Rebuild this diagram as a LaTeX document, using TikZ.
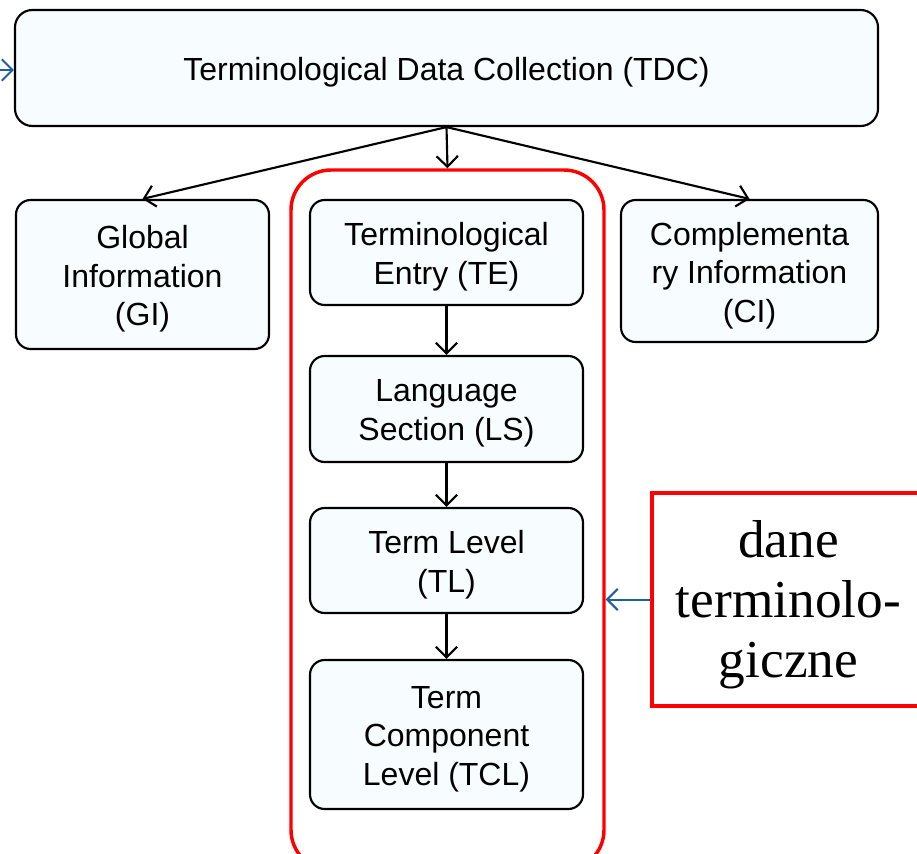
\documentclass[tikz,border=0pt]{standalone}
\usepackage{fontspec}
\setmainfont{Liberation Sans}
\newfontfamily\timesf{Liberation Serif}
\usetikzlibrary{arrows.meta}
\definecolor{boxfill}{RGB}{247,252,254}
\definecolor{arrblue}{RGB}{31,95,160}
\definecolor{grpred}{RGB}{255,0,0}
\begin{document}
\begin{tikzpicture}[x=0.75pt,y=-0.75pt,
  lbl/.style={align=center,font=\fontsize{24pt}{28.9pt}\selectfont,yshift=-3.3pt,inner sep=0pt},
  dlbl/.style={align=center,font=\timesf\fontsize{40pt}{45pt}\selectfont,yshift=-3.6pt,inner sep=0pt},
  box/.style={draw=black,line width=1.6pt,fill=boxfill,rounded corners=11pt,inner sep=0pt,
    label={[lbl]center:#1}},
  conn/.style={line width=1.6pt,-{Straight Barb[length=8pt,width=16pt,line width=1.6pt]}},
  bconn/.style={arrblue,line width=1.5pt,-{Straight Barb[length=8pt,width=16pt,line width=1.5pt]}}]
\useasboundingbox (0,0) rectangle (917,853);
\clip (0,0) rectangle (917,853);
\fill[white] (0,0) rectangle (917,853);
% boxes
\node[box={Terminological Data Collection (TDC)},rounded corners=13pt,minimum width=647.25pt,minimum height=87pt] (tdc) at (446.5,68) {};
\node[box={Global\\Information\\(GI)},minimum width=189.75pt,minimum height=111.75pt] (gi) at (142.5,274.5) {};
\node[box={Complementa\\ry Information\\(CI)},minimum width=192.75pt,minimum height=106.5pt] (ci) at (749.5,271) {};
\node[draw=grpred,line width=2.6pt,rounded corners=30pt,minimum width=234.75pt,minimum height=525pt] (group) at (447.5,520) {};
\node[box={Terminological\\Entry (TE)},minimum width=204.75pt,minimum height=78.75pt] (te) at (446.5,252.5) {};
\node[box={Language\\Section (LS)},minimum width=204.75pt,minimum height=79.5pt] (ls) at (446.5,409) {};
\node[box={Term Level\\(TL)},minimum width=204.75pt,minimum height=78.75pt] (tl) at (446.5,560.5) {};
\node[box={Term\\Component\\Level (TCL)},minimum width=204.75pt,minimum height=111.75pt] (tcl) at (446.5,734.5) {};
\node[draw=grpred,line width=2.6pt,fill=white,minimum width=204.75pt,minimum height=159.75pt,inner sep=0pt,
  label={[dlbl]center:dane\\terminolo-\\giczne}] (dane) at (788.5,599.5) {};
% connectors
\coordinate (lin) at (0,70);
\draw[bconn] (lin) -- (tdc.west |- lin);
\draw[conn] (tdc.south) -- (gi.north);
\draw[conn] (tdc.south) -- (group.north);
\draw[conn] (tdc.south) -- (ci.north);
\draw[conn] (te) -- (ls);
\draw[conn] (ls) -- (tl);
\draw[conn] (tl) -- (tcl);
\draw[bconn] (dane.west) -- (dane.west -| group.east);
\end{tikzpicture}
\end{document}
